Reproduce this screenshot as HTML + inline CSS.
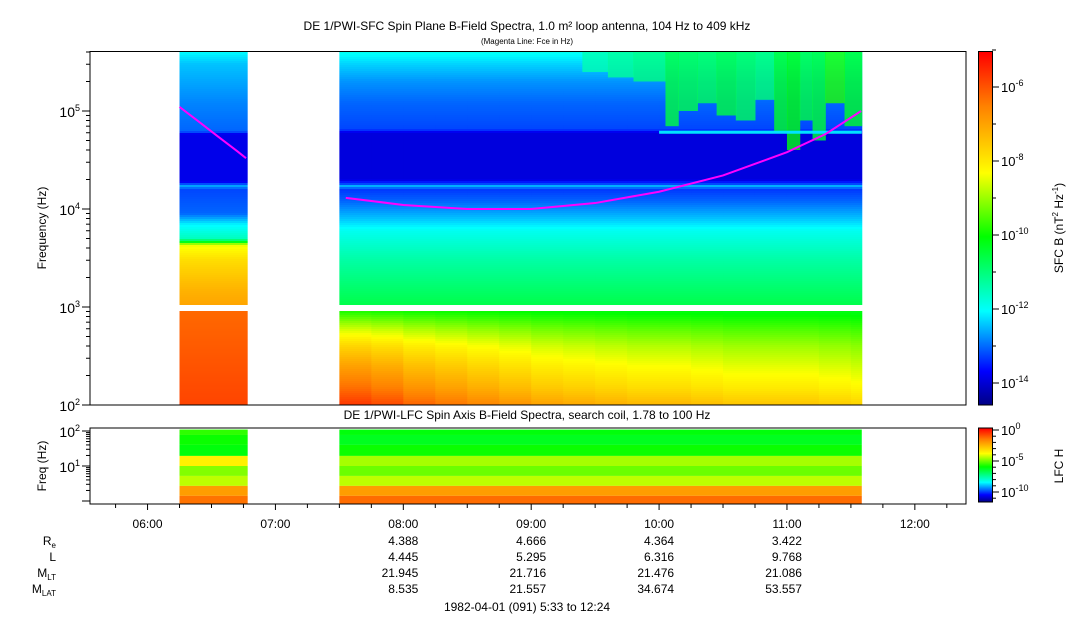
<!DOCTYPE html>
<html><head><meta charset="utf-8"><style>
html,body{margin:0;padding:0;background:#fff;}
svg{display:block;font-family:"Liberation Sans",sans-serif;}
</style></head><body>
<svg id="c" width="1083" height="620" viewBox="0 0 1083 620" xmlns="http://www.w3.org/2000/svg">
<text x="527" y="30" font-size="12" text-anchor="middle">DE 1/PWI-SFC  Spin Plane B-Field Spectra, 1.0 m² loop antenna, 104 Hz to 409 kHz</text>
<text x="527" y="44" font-size="8" text-anchor="middle">(Magenta Line: Fce in Hz)</text>
<text x="527" y="419" font-size="12" text-anchor="middle">DE 1/PWI-LFC  Spin Axis B-Field Spectra, search coil, 1.78 to 100 Hz</text>
<g id="cells"></g>
<g id="axes"></g>
<text transform="translate(46,228) rotate(-90)" font-size="12" text-anchor="middle">Frequency (Hz)</text>
<text transform="translate(46,466) rotate(-90)" font-size="12" text-anchor="middle">Freq (Hz)</text>
<text transform="translate(1063,228) rotate(-90)" font-size="12" text-anchor="middle">SFC B (nT<tspan dy="-5" font-size="8">2</tspan><tspan dy="5"> Hz</tspan><tspan dy="-5" font-size="8">-1</tspan><tspan dy="5">)</tspan></text>
<text transform="translate(1063,466) rotate(-90)" font-size="12" text-anchor="middle">LFC H</text>
<g font-size="12" text-anchor="end">
<text x="56" y="545">R<tspan font-size="8" dy="3">e</tspan></text>
<text x="56" y="561">L</text>
<text x="56" y="577">M<tspan font-size="8" dy="3">LT</tspan></text>
<text x="56" y="593">M<tspan font-size="8" dy="3">LAT</tspan></text>
</g>
<text x="527" y="611" font-size="12" text-anchor="middle">1982-04-01 (091) 5:33 to 12:24</text>
</svg>
<script>
// ---- data ----
const segStarts=[6.25,7.5];
const segEnds=[6.783,11.585];
const seg1Freq=[409e3,300e3,120e3,62e3,58e3,19e3,17e3,16e3,9e3,7e3,5e3,4.6e3,4.3e3,3e3,1.5e3,1.06e3,900,104];
const seg1Val=[-12.0,-12.4,-12.8,-13.0,-13.8,-13.8,-12.5,-13.2,-13.0,-12.1,-11.5,-10.2,-8.4,-7.8,-7.2,-7.0,-6.2,-5.8];
const seg2Freq=[409e3,300e3,200e3,120e3,65e3,60e3,20e3,18e3,17e3,16e3,12e3,8e3,6e3,3e3,1.06e3,900,600,400,250,150,104];
const seg2Val=[-11.9,-12.3,-12.7,-13.0,-13.2,-13.9,-13.9,-13.2,-12.4,-13.3,-13.0,-12.4,-11.9,-11.3,-10.6,-10.1,-9.4,-8.8,-8.3,-7.8,-7.3];
const seg2ColTimes=[7.5,7.75,8.0,8.25,8.5,8.75,9.0,9.25,9.5,9.75,10.0,10.25,10.5,10.75,11.0,11.25,11.5];
const seg2LowOffset=[0.8,0.7,0.55,0.45,0.35,0.25,0.15,0.1,0.05,0.0,0.0,-0.05,-0.1,-0.1,-0.1,-0.15,-0.2];
const patchTimes=[9.4,9.6,9.8,10.05,10.15,10.3,10.45,10.6,10.75,10.9,11.0,11.1,11.2,11.3,11.45];
const patchLowF=[250e3,220e3,200e3,70e3,100e3,120e3,90e3,80e3,130e3,60e3,40e3,80e3,50e3,120e3,70e3];
const patchVal=[-11.4,-11.2,-11.0,-10.5,-10.6,-10.7,-10.5,-10.7,-10.9,-10.3,-10.1,-10.5,-10.4,-9.8,-10.3];
const fceTimes1=[6.25,6.4,6.55,6.7,6.77];
const fceVals1=[1.1e5,7.8e4,5.5e4,3.9e4,3.3e4];
const fceTimes2=[7.55,8.0,8.5,9.0,9.5,10.0,10.5,11.0,11.3,11.58];
const fceVals2=[1.3e4,1.1e4,1.0e4,1.0e4,1.15e4,1.5e4,2.2e4,3.8e4,5.8e4,1.0e5];
const lfcFreq=[110,77,40,19.4,10,5.2,2.7,1.4,0.8];
const lfcVal1=[-5.5,-5.8,-6.0,-3.5,-4.8,-4.3,-2.0,-1.3];
const lfcVal2=[-6.0,-6.2,-5.8,-4.5,-5.0,-4.3,-2.0,-1.2];
const hourTicks=[6,7,8,9,10,11,12];
const hourLabels=["06:00","07:00","08:00","09:00","10:00","11:00","12:00"];
const ephHours=[8,9,10,11];
const ephRe=["4.388","4.666","4.364","3.422"];
const ephL=["4.445","5.295","6.316","9.768"];
const ephMLT=["21.945","21.716","21.476","21.086"];
const ephMLAT=["8.535","21.557","34.674","53.557"];
const cbTicks=[-14,-12,-10,-8,-6];
const lfcCbTicks=[-10,-5,0];
// ---- scales ----
const X0=90,X1=966,T0=5.55,T1=12.4;
const xs=t=>X0+(t-T0)/(T1-T0)*(X1-X0);
const ys=f=>405-(Math.log10(f)-2)*98;
const yl=f=>466-(Math.log10(f)-1)*35;
const cbY=v=>383-(v+14)*37;
const lcbY=v=>461-(v+5)*6.2;
const stops=[[0,[0,0,127]],[0.1,[0,0,255]],[0.27,[0,255,255]],[0.48,[0,255,0]],[0.66,[255,255,0]],[0.85,[255,128,0]],[1,[255,0,0]]];
function jet(t){t=Math.max(0,Math.min(1,t));for(let i=1;i<stops.length;i++){if(t<=stops[i][0]){const a=stops[i-1],b=stops[i];const u=(t-a[0])/(b[0]-a[0]);const c=a[1].map((v,k)=>Math.round(v+(b[1][k]-v)*u));return`rgb(${c})`;}}return'rgb(255,0,0)';}
const cmain=v=>jet((v+14.6)/9.57);
const clfc=v=>jet((v+11.6)/11.9);
const NS='http://www.w3.org/2000/svg';
const cells=document.getElementById('cells'),axes=document.getElementById('axes');
function mk(tag,attrs,parent){const e=document.createElementNS(NS,tag);for(const k in attrs)e.setAttribute(k,attrs[k]);(parent||cells).appendChild(e);return e;}
function prof(freqs,vals,f){const lf=Math.log10(f);for(let i=1;i<freqs.length;i++){const a=Math.log10(freqs[i-1]),b=Math.log10(freqs[i]);if(lf<=a&&lf>=b){const u=(a-lf)/(a-b||1);return vals[i-1]+(vals[i]-vals[i-1])*u;}}return vals[vals.length-1];}
function fAt(y){return Math.pow(10,2+(405-y)/98);}
// segment 1
for(let y=51;y<405;y+=2){const f=fAt(y+1);if(f<1060&&f>900)continue;
 const r=mk('rect',{x:xs(segStarts[0]),y:y,width:xs(segEnds[0])-xs(segStarts[0]),height:2,fill:cmain(prof(seg1Freq,seg1Val,f))});
 
 }
// segment 2
for(let c=0;c<seg2ColTimes.length;c++){const t0=seg2ColTimes[c],t1=Math.min(c+1<seg2ColTimes.length?seg2ColTimes[c+1]:segEnds[1],segEnds[1]);
 for(let y=51;y<405;y+=2){const f=fAt(y+1);if(f<1060&&f>900)continue;
  let v=prof(seg2Freq,seg2Val,f);if(f<1060)v+=seg2LowOffset[c]*((1060-f)/956)*2;
  const r=mk('rect',{x:xs(t0),y:y,width:xs(t1)-xs(t0)+0.5,height:2,fill:cmain(v)});
  
  }}
// patches
for(let i=0;i<patchTimes.length;i++){const t0=patchTimes[i],t1=i+1<patchTimes.length?patchTimes[i+1]:segEnds[1];
 const y0=ys(400e3),y1=ys(patchLowF[i]);
 const r=mk('rect',{x:xs(t0),y:y0,width:xs(t1)-xs(t0)+0.5,height:y1-y0,fill:cmain(patchVal[i]),opacity:0.8});
 
 }
// line artifacts
{const r=mk('rect',{x:xs(10.0),y:ys(60e3)-2,width:xs(segEnds[1])-xs(10.0),height:3,fill:cmain(-12.2)});
 
 }
// fce lines
function fce(ts,vs,name){const p=mk('polyline',{points:ts.map((t,i)=>xs(t)+','+ys(vs[i])).join(' '),fill:'none',stroke:'#ff00ff','stroke-width':2});
 
 }
fce(fceTimes1,fceVals1,'fce-line-1');fce(fceTimes2,fceVals2,'fce-line-2');
// LFC
[[0,lfcVal1],[1,lfcVal2]].forEach(([s,vals])=>{for(let i=0;i<vals.length;i++){const y0=Math.max(429,yl(lfcFreq[i])),y1=Math.min(504,yl(lfcFreq[i+1]));
 const r=mk('rect',{x:xs(segStarts[s]),y:y0,width:xs(segEnds[s])-xs(segStarts[s]),height:y1-y0,fill:clfc(vals[i])});
 
 }});
// colorbars
for(let y=52;y<405;y++){const r=mk('rect',{x:979,y:y,width:13,height:1.2,fill:cmain(-5.03-(y-52)/37)});
 
 }
for(let y=428;y<502;y++){const r=mk('rect',{x:979,y:y,width:13,height:1.2,fill:clfc(0.3-(y-428)/6.2)});
 
 }
// axes boxes
[[90,51.5,876,353.5,'main-plot-frame'],[90,428,876,76,'lfc-plot-frame'],[978.5,51.5,14,353.5,'colorbar-frame'],[978.5,428,14,74,'lfc-colorbar-frame']].forEach(b=>{const r=mk('rect',{x:b[0],y:b[1],width:b[2],height:b[3],fill:'none',stroke:'#000','stroke-width':1},axes);
 
 });
function line(x1,y1,x2,y2){mk('line',{x1,y1,x2,y2,stroke:'#000','stroke-width':1},axes);}
function txt(x,y,s,anchor,size,name,sup){const t=mk('text',{x,y,'font-size':size||12,'text-anchor':anchor||'middle'},axes);t.textContent=s;if(sup){const ts=mk('tspan',{dy:-6,'font-size':9},t);ts.textContent=sup;}
 
 return t;}
// main y ticks
for(let d=2;d<=5;d++){for(let m=1;m<10;m++){const f=m*Math.pow(10,d);if(f>409e3)break;const y=ys(f);line(90,y,m==1?82:86,y);}
 txt(80,ys(Math.pow(10,d))+6,'10','end',14,'y-tick-label',String(d));}
// lfc y ticks
for(let d=0;d<=2;d++){for(let m=1;m<10;m++){const f=m*Math.pow(10,d);const y=yl(f);if(y<428||y>504)continue;line(90,y,m==1?82:86,y);}}
txt(80,yl(100)+6,'10','end',14,'lfc-y-tick-label','2');txt(80,yl(10)+6,'10','end',14,'lfc-y-tick-label','1');
// x ticks
for(let t=5.75;t<=12.4;t+=0.25){const x=xs(t);const maj=Math.abs(t-Math.round(t))<0.01;line(x,504,x,maj?510:508);}
hourTicks.forEach((h,i)=>txt(xs(h),528,hourLabels[i],'middle',12,'x-tick-label'));
// ephemeris
const eph=[ephRe,ephL,ephMLT,ephMLAT];
ephHours.forEach((h,i)=>eph.forEach((arr,k)=>txt(xs(h)+15,545+16*k,arr[i],'end',12,'ephemeris-value')));
// colorbar ticks
for(let v=-14;v<=-5;v++){const y=cbY(v);line(992,y,v%2==0?999:996,y);}
cbTicks.forEach(v=>txt(1001,cbY(v)+5,'10','start',13,'colorbar-tick-label',String(v)));
for(let v=-11;v<=0;v++){const y=lcbY(v);line(992,y,v%5==0?999:996,y);}
lfcCbTicks.forEach(v=>txt(1001,lcbY(v)+5,'10','start',13,'lfc-colorbar-tick-label',String(v)));
</script>
</body></html>
